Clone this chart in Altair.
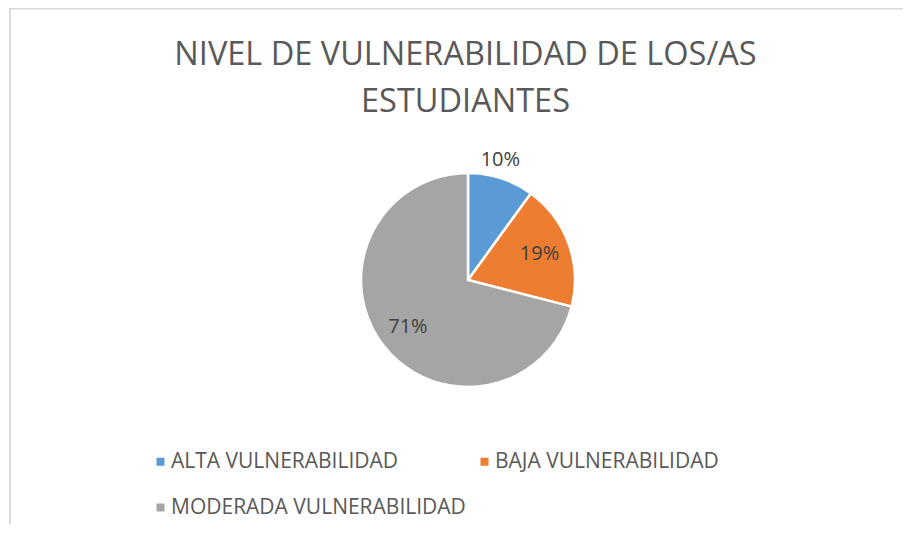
import altair as alt
import pandas as pd

categories = ["ALTA VULNERABILIDAD", "BAJA VULNERABILIDAD", "MODERADA VULNERABILIDAD"]
values = [10, 19, 71]
colors = ["#5B9BD5", "#ED7D31", "#A5A5A5"]
title_lines = ["NIVEL DE VULNERABILIDAD DE LOS/AS", "ESTUDIANTES"]

df = pd.DataFrame({"cat": categories, "val": values, "ord": [0, 1, 2]})

FONT = "Open Sans"
W, H = 895, 516
CX, CY = 460, 272

base = alt.Chart(df).encode(
    theta=alt.Theta("val:Q", stack=True),
    order=alt.Order("ord:Q"),
).transform_calculate(
    lbl_in="datum.val > 15 ? datum.val + '%' : ''",
    lbl_out="datum.val <= 15 ? datum.val + '%' : ''",
)

pie = base.mark_arc(radius=107, stroke="white", strokeWidth=2.5).encode(
    x=alt.value(CX), y=alt.value(CY),
    color=alt.Color(
        "cat:N",
        scale=alt.Scale(domain=categories, range=colors),
        legend=alt.Legend(
            title=None, orient="none", legendX=142, legendY=443, columns=2,
            direction="horizontal",
            symbolType="square", symbolSize=64, symbolStrokeWidth=0,
            labelFont=FONT, labelFontSize=21, labelColor="#595959",
            labelOffset=0, columnPadding=8, rowPadding=24, labelLimit=400,
        ),
    ),
)

inner = base.mark_text(radius=76, font=FONT, fontSize=20, color="#404040").encode(
    x=alt.value(CX), y=alt.value(CY), text="lbl_in:N"
)

outer = base.mark_text(radius=124, thetaOffset=-0.05, font=FONT, fontSize=20, color="#404040").encode(
    x=alt.value(CX), y=alt.value(CY), text="lbl_out:N"
)

frame_top = alt.Chart(df).mark_rule(color="#D9D9D9", strokeWidth=1.5).encode(
    x=alt.value(2), x2=alt.value(W + 20), y=alt.value(0.5)
)
frame_left = alt.Chart(df).mark_rule(color="#D9D9D9", strokeWidth=1.5).encode(
    x=alt.value(2), y=alt.value(0), y2=alt.value(H + 20)
)

chart = alt.layer(frame_top, frame_left, pie, inner, outer).properties(
    width=W, height=H,
    autosize=alt.AutoSizeParams(type="none"),
    padding=0,
    title=alt.TitleParams(
        text=title_lines, anchor="middle", font=FONT, fontSize=32.5,
        fontWeight="normal", color="#595959", lineHeight=47, dy=115, dx=10,
    ),
).configure_view(stroke=None)

chart.save("out.html", embed_options={"renderer": "svg", "actions": False})
